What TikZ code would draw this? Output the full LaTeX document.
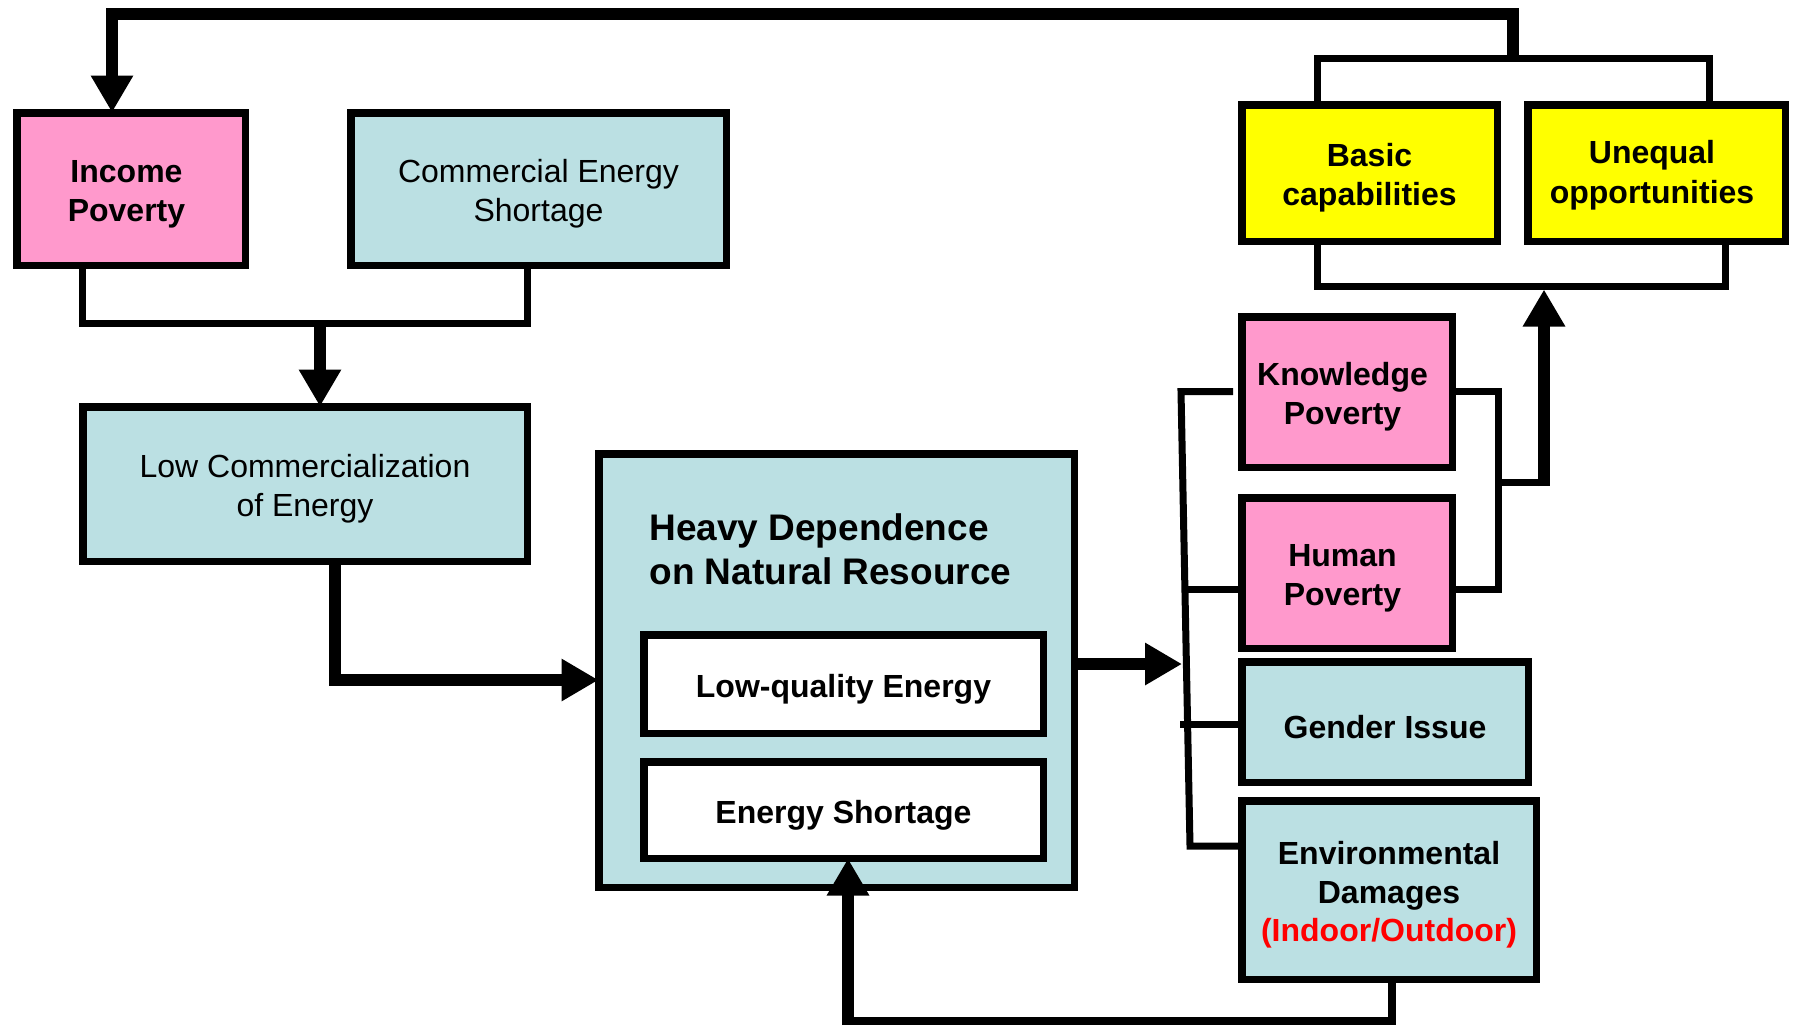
\documentclass[tikz,border=0pt]{standalone}
\usepackage{fontspec}
\setmainfont{Liberation Sans}
\usetikzlibrary{arrows.meta}
\definecolor{pinkbox}{HTML}{FF99CC}
\definecolor{bluebox}{HTML}{BBE0E3}
\definecolor{yellowbox}{HTML}{FFFF00}
\definecolor{redtext}{HTML}{FF0000}
\newcommand{\mystrut}{\rule{0pt}{16.5pt}}
\newcommand{\rpad}{\kern4.5pt}
\begin{document}
\begin{tikzpicture}[x=0.5pt,y=-0.5pt,
  box/.style={draw=black, line width=3.75pt, rectangle, align=center, inner sep=0pt,
    font=\fontsize{16}{19.3}\selectfont},
  boldbox/.style={box, font=\fontsize{16}{19.3}\selectfont\bfseries},
  conn/.style={line width=3.5pt},
  heavy/.style={line width=6pt},
  arr/.style={-{Triangle[width=20pt,length=18.5pt]}},
  tipout/.style={shorten >=-1.75pt}]
\useasboundingbox (0,0) rectangle (1793,1029);

% boxes
\node[boldbox, fill=pinkbox, minimum width=114.25pt, minimum height=76.25pt] (inc) at (131,189) {\mystrut Income\rpad\\Poverty\rpad};
\node[box, fill=bluebox, minimum width=187.75pt, minimum height=76.25pt] (ces) at (538.5,189) {\mystrut Commercial Energy\\Shortage};
\node[box, fill=bluebox, minimum width=222.25pt, minimum height=77.25pt] (lce) at (305,484) {\mystrut Low Commercialization\\of Energy};
\node[draw=black, line width=3.75pt, fill=bluebox, inner sep=0pt, minimum width=237.75pt, minimum height=216.75pt] (hd) at (836.5,670.5) {};
\node[anchor=north west, inner sep=0pt, align=left, font=\fontsize{18.5}{22}\selectfont\bfseries] (hdt) at (649,513) {Heavy Dependence\\on Natural Resource};
\node[boldbox, fill=white, minimum width=199.75pt, minimum height=49.25pt] (lqe) at (843.5,684) {\mystrut Low-quality Energy};
\node[boldbox, fill=white, minimum width=199.75pt, minimum height=48.25pt] (es) at (843.5,810) {\mystrut Energy Shortage};
\node[boldbox, fill=yellowbox, minimum width=127.75pt, minimum height=68.25pt] (bc) at (1369.5,173) {\mystrut Basic\\capabilities};
\node[boldbox, fill=yellowbox, minimum width=128.75pt, minimum height=68.25pt] (uo) at (1656.5,173) {\rule{0pt}{14pt}Unequal\rpad\\[1pt]opportunities\rpad};
\node[boldbox, fill=pinkbox, minimum width=105.25pt, minimum height=75.25pt] (kp) at (1347,392) {\mystrut Knowledge\rpad\\Poverty\rpad};
\node[boldbox, fill=pinkbox, minimum width=105.25pt, minimum height=75.25pt] (hp) at (1347,573) {\mystrut Human\rpad\\Poverty\rpad};
\node[boldbox, fill=bluebox, minimum width=143.25pt, minimum height=60.25pt] (gi) at (1385,722) {\mystrut Gender Issue};
\node[boldbox, fill=bluebox, minimum width=147.25pt, minimum height=89.25pt] (ed) at (1389,890) {\mystrut Environmental\\Damages\\\textcolor{redtext}{(Indoor/Outdoor)}};

% coordinates
\coordinate (t1) at (1513,58);
\coordinate (t2) at (1513,14);
\coordinate (t3) at (112,14);
\coordinate (b1) at (1317,58);
\coordinate (b2) at (1709,58);
\coordinate (c1) at (1317,286);
\coordinate (c2) at (1725,286);
\coordinate (c3) at (1544,289.5);
\coordinate (d1) at (1498,391.5);
\coordinate (d2) at (1498,589);
\coordinate (d3) at (1498,482.5);
\coordinate (d4) at (1544,482.5);
\coordinate (d5) at (1544,486);
\coordinate (e0) at (1233,391.5);
\coordinate (e1) at (1181,391.5);
\coordinate (e2) at (1190,846);
\coordinate (e3) at (1184.9,589);
\coordinate (e4) at (1180,724.7);
\coordinate (a1) at (1182,664);
\coordinate (a0) at (1000,664);
\coordinate (f1) at (82,323);
\coordinate (f2) at (527,323);
\coordinate (f3) at (320,323);
\coordinate (g) at (335,680);
\coordinate (h1) at (1392,1021);
\coordinate (h2) at (848,1021);
\coordinate (h3) at (848,1025);

% top feedback to income poverty
\draw[heavy, arr, tipout] (t1) -- (t2) -- (t3) -- (inc.north -| t3);
% bracket above yellow boxes
\draw[conn] (bc.north -| b1) -- (b1) -- (b2) -- (uo.north -| b2);
% bracket below yellow boxes
\draw[conn] (bc.south -| c1) -- (c1) -- (c2) -- (uo.south -| c2);
% knowledge/human bracket
\draw[conn] (kp.east |- d1) -- (d1) -- (d2) -- (hp.east |- d2);
\draw[conn] (d3) -- (d4);
\draw[heavy, arr] (d5) -- (c3);
% left bracket of right column
\draw[conn] (e0) -- (e1) -- (e2) -- (ed.west |- e2);
\draw[conn] (e3) -- (hp.west |- e3);
\draw[conn] (e4) -- (gi.west |- e4);
% heavy dependence to right column
\draw[heavy, arr] (hd.east |- a0) -- (a1);
% income/commercial bracket
\draw[conn] (inc.south -| f1) -- (f1) -- (f2) -- (ces.south -| f2);
\draw[heavy, arr, tipout] (f3) -- (lce.north -| f3);
% low commercialization to heavy dependence
\draw[heavy, arr, tipout] (lce.south -| g) |- (hd.west |- g);
% environmental damages feedback
\draw[line width=4pt] (ed.south -| h1) -- (h1) -- (h2);
\draw[heavy, arr, tipout] (h3) -- (es.south -| h3);
\end{tikzpicture}
\end{document}
